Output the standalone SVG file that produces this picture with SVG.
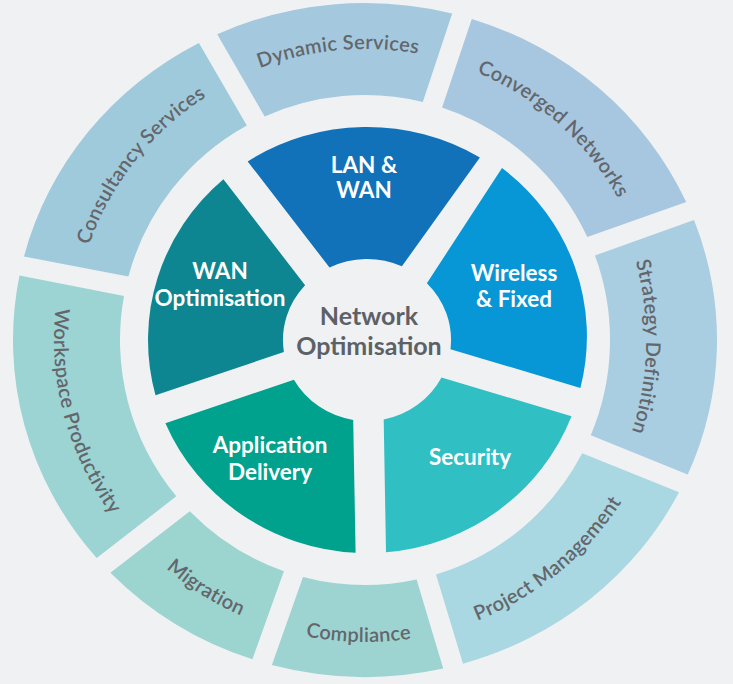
<svg xmlns="http://www.w3.org/2000/svg" width="733" height="684" viewBox="0 0 733 684">
<defs>
<style>
.outer-lbl{font-family:Lato,"Liberation Sans",sans-serif;font-size:20px;font-weight:600;fill:#63666b;letter-spacing:0.3px}
.inner-lbl{font-family:Lato,"Liberation Sans",sans-serif;font-size:22.5px;font-weight:bold;fill:#ffffff;text-anchor:middle}
.center-lbl{font-family:Lato,"Liberation Sans",sans-serif;font-size:25px;font-weight:bold;fill:#5c6167;text-anchor:middle}
</style>
<path id="tp-dyn" d="M233.4,79.6 A295,291 0 0 1 446.3,60.3"/>
<path id="tp-conv" d="M444.9,61.2 A290,290 0 0 1 632.9,229.0"/>
<path id="tp-strat" d="M624.6,228.6 A283,291 0 0 1 619.3,463.9"/>
<path id="tp-cons" d="M80.2,276.3 A292,290 0 0 1 234.7,80.5"/>
<path id="tp-proj" d="M441.1,632.4 A304,302 0 0 0 640.1,468.6"/>
<path id="tp-comp" d="M276.7,628.8 A302,302 0 0 0 440.6,632.4"/>
<path id="tp-mig" d="M139.1,542.1 A304,302 0 0 0 276.1,628.8"/>
<path id="tp-work" d="M61.6,273.6 A311,302 0 0 0 133.9,542.1"/>
</defs>
<rect width="733" height="684" fill="#eff1f3"/>

<g id="dynamic-services">
<path d="M217.2,34.2 A352,337 0 0 1 452.2,13.5 L422.8,101.9 A245,245 0 0 0 264.7,116.5 Z" fill="#a4c9de"/>
<text class="outer-lbl"><textPath href="#tp-dyn" startOffset="50%" text-anchor="middle">Dynamic Services</textPath></text>
</g>
<g id="converged-networks">
<path d="M471.8,18.9 A352,337 0 0 1 686.2,202.1 L587.3,237.1 A245,245 0 0 0 442.1,107.4 Z" fill="#a6c7df"/>
<text class="outer-lbl"><textPath href="#tp-conv" startOffset="50%" text-anchor="middle">Converged Networks</textPath></text>
</g>
<g id="strategy-definition">
<path d="M694.0,220.1 A352,337 0 0 1 687.7,474.6 L590.8,435.2 A245,245 0 0 0 595.0,255.6 Z" fill="#a9cde1"/>
<text class="outer-lbl"><textPath href="#tp-strat" startOffset="50%" text-anchor="middle">Strategy Definition</textPath></text>
</g>
<g id="project-management">
<path d="M679.0,492.3 A352,337 0 0 1 463.0,663.7 L436.0,574.5 A245,245 0 0 0 582.2,453.3 Z" fill="#a9d7e2"/>
<text class="outer-lbl"><textPath href="#tp-proj" startOffset="50%" text-anchor="middle">Project Management</textPath></text>
</g>
<g id="compliance">
<path d="M443.2,668.6 A352,337 0 0 1 271.9,665.0 L303.0,577.0 A245,245 0 0 0 416.6,579.5 Z" fill="#9dd4d1"/>
<text class="outer-lbl"><textPath href="#tp-comp" startOffset="50%" text-anchor="middle">Compliance</textPath></text>
</g>
<g id="migration">
<path d="M252.4,659.3 A352,337 0 0 1 110.4,572.7 L189.8,511.2 A245,245 0 0 0 283.9,571.2 Z" fill="#9cd4d0"/>
<text class="outer-lbl"><textPath href="#tp-mig" startOffset="50%" text-anchor="middle">Migration</textPath></text>
</g>
<g id="workspace-productivity">
<path d="M96.7,558.1 A352,337 0 0 1 19.5,275.5 L124.0,295.9 A245,245 0 0 0 176.3,496.3 Z" fill="#9cd3d3"/>
<text class="outer-lbl"><textPath href="#tp-work" startOffset="50%" text-anchor="middle">Workspace Productivity</textPath></text>
</g>
<g id="consultancy-services">
<path d="M24.0,256.4 A352,337 0 0 1 198.9,42.9 L246.8,125.4 A245,245 0 0 0 128.4,276.4 Z" fill="#9fcadb"/>
<text class="outer-lbl"><textPath href="#tp-cons" startOffset="50%" text-anchor="middle">Consultancy Services</textPath></text>
</g>

<g id="lan-wan">
<path d="M247.7,161.4 A219,213 0 0 1 479.9,157.5 L401.9,266.3 A84,81 0 0 0 329.5,267.5 Z" fill="#1172b9"/>
<text class="inner-lbl" x="364" y="173">LAN &amp;</text>
<text class="inner-lbl" x="364" y="198">WAN</text>
</g>
<g id="wireless-fixed">
<path d="M502,168 A219,213 0 0 1 580.4,388.0 L450.5,349.2 A84,81 0 0 0 426.9,283.2 Z" fill="#0797d6"/>
<text class="inner-lbl" x="514" y="281">Wireless</text>
<text class="inner-lbl" x="514" y="307">&amp; Fixed</text>
</g>
<g id="security">
<path d="M571.5,416.3 A219,213 0 0 1 386.0,552.2 L383.7,419.4 A84,81 0 0 0 441.5,377.4 Z" fill="#30bfc3"/>
<text class="inner-lbl" x="470" y="465">Security</text>
</g>
<g id="application-delivery">
<path d="M355.6,552.7 A219,213 0 0 1 165.4,423.2 L293.9,379.8 A84,81 0 0 0 353.2,419.9 Z" fill="#00a28e"/>
<text class="inner-lbl" x="270" y="453">Application</text>
<text class="inner-lbl" x="270" y="480">Delivery</text>
</g>
<g id="wan-optimisation">
<path d="M155.5,395.2 A219,213 0 0 1 223.4,179.2 L305.1,285.2 A84,81 0 0 0 283.9,352.0 Z" fill="#0d8691"/>
<text class="inner-lbl" x="220" y="279">WAN</text>
<text class="inner-lbl" x="220" y="306">Optimisation</text>
</g>

<g id="network-optimisation">
<text class="center-lbl" x="369" y="325">Network</text>
<text class="center-lbl" x="369" y="355">Optimisation</text>
</g>
</svg>
